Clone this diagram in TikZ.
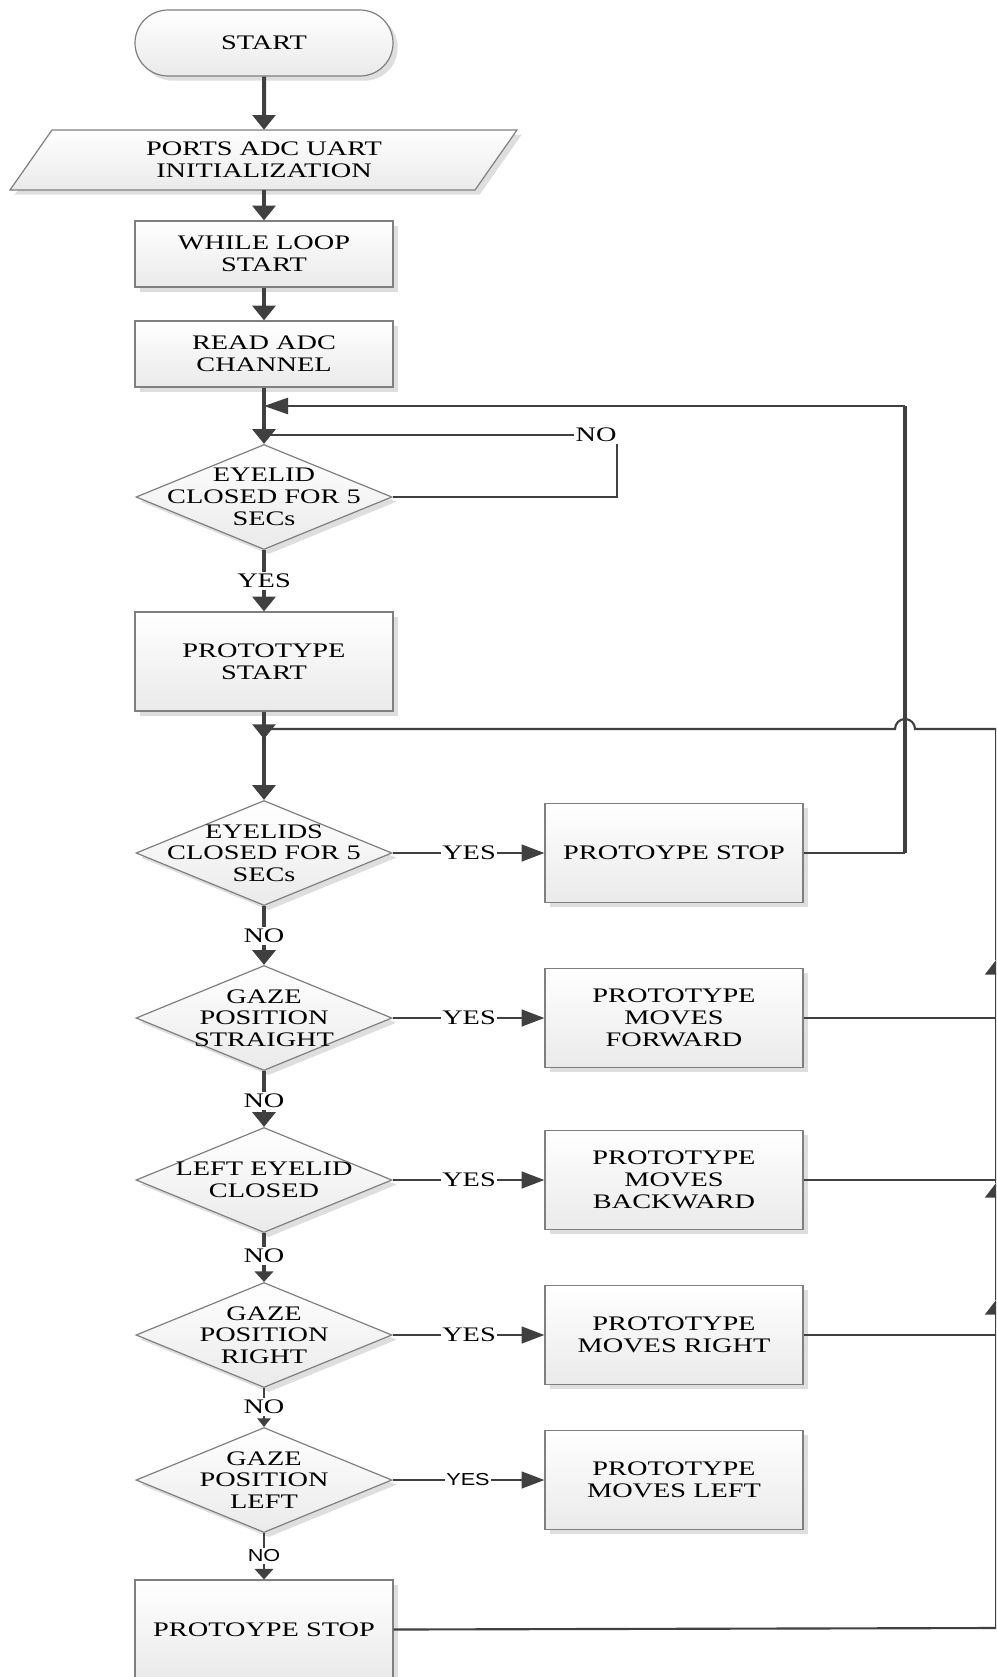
\documentclass[tikz,border=0pt]{standalone}
\usepackage{fontspec}
\setmainfont{Liberation Serif}[FakeStretch=1.37]
\newfontfamily\lblsans{Liberation Sans}[FakeStretch=1.25]
\usetikzlibrary{arrows.meta,shapes.geometric,shapes.misc,shadows}
\definecolor{lncol}{HTML}{404040}
\definecolor{bdcol}{HTML}{7F7F7F}
\definecolor{shdcol}{HTML}{DEDEDE}
\definecolor{botcol}{HTML}{EAEAEA}
\newcommand\flowfont{\fontsize{15.5}{16.3}\selectfont}
\newcommand\sanslblfont{\lblsans\fontsize{13}{14}\selectfont}
\begin{document}
\begin{tikzpicture}[x=0.75pt,y=-0.75pt,
  shp/.style={draw=bdcol, line width=0.9pt, top color=white, bottom color=botcol,
    drop shadow={shadow xshift=3.5pt, shadow yshift=-3.5pt, fill=shdcol, opacity=1}},
  box/.style={shp, rectangle, minimum width=193.5pt, minimum height=74.25pt,
    inner sep=0pt, align=center, font=\flowfont},
  term/.style={shp, rounded rectangle, minimum width=193.5pt, minimum height=49.5pt,
    inner sep=0pt, font=\flowfont},
  dia/.style={shp, diamond, minimum width=192pt, minimum height=78.75pt, inner sep=0pt},
  txt/.style={inner sep=0pt, align=center, font=\flowfont},
  lbl/.style={fill=white, inner sep=1.2pt, font=\flowfont},
  slbl/.style={fill=white, inner sep=1.2pt, font=\sanslblfont},
  lnk/.style={draw=lncol, line cap=butt, line join=miter},
  thk/.style={lnk, line width=3pt},
  med/.style={lnk, line width=1.9pt},
  thn/.style={lnk, line width=1.6pt},
  darr/.style={-{Triangle[length=11pt,width=17pt]}},
  darrs/.style={-{Triangle[length=6.5pt,width=10pt]}},
  darrm/.style={-{Triangle[length=8pt,width=14pt]}},
  larr/.style={-{Triangle[length=18pt,width=12pt]}},
  yarr/.style={-{Triangle[length=17pt,width=12.5pt]}},
  uarr/.style={-{Triangle[length=11pt,width=16.5pt]}}
]
\useasboundingbox (0,0) rectangle (996,1677);
\clip (0,0) rectangle (996,1677);

% ---------- shapes ----------
\node[term] (start) at (264,43) {START};
\path[shp] (52,130) -- (517,130) -- (475,190) -- (10,190) -- cycle;
\node[txt, minimum height=45pt, minimum width=150pt] (para) at (264,160) {PORTS ADC UART\\INITIALIZATION};
\node[box, minimum height=49.5pt] (while) at (264,254) {WHILE LOOP\\START};
\node[box, minimum height=49.5pt] (read) at (264,354) {READ ADC\\CHANNEL};

\node[dia] (d1) at (264,497) {};
\node[txt] (d1t) at (d1) {EYELID\\CLOSED FOR 5\\SECs};
\node[box] (pstart) at (264,661.5) {PROTOTYPE\\START};

\node[dia] (d2) at (264,853) {};
\node[txt] (d2t) at (d2) {EYELIDS\\CLOSED FOR 5\\SECs};
\node[box] (s1) at (674,853) {PROTOYPE STOP};

\node[dia] (d3) at (264,1018) {};
\node[txt] (d3t) at (d3) {GAZE\\POSITION\\STRAIGHT};
\node[box] (fwd) at (674,1018) {PROTOTYPE\\MOVES\\FORWARD};

\node[dia] (d4) at (264,1180) {};
\node[txt] (d4t) at (d4) {LEFT EYELID\\CLOSED};
\node[box] (bwd) at (674,1180) {PROTOTYPE\\MOVES\\BACKWARD};

\node[dia] (d5) at (264,1335) {};
\node[txt] (d5t) at (d5) {GAZE\\POSITION\\RIGHT};
\node[box] (rgt) at (674,1335) {PROTOTYPE\\MOVES RIGHT};

\node[dia] (d6) at (264,1480) {};
\node[txt] (d6t) at (d6) {GAZE\\POSITION\\LEFT};
\node[box] (lft) at (674,1480) {PROTOTYPE\\MOVES LEFT};

\node[box] (stop2) at (264,1629.5) {PROTOYPE STOP};

% ---------- coordinates ----------
\coordinate (j1) at (264,406);
\coordinate (j2) at (264,435);
\coordinate (nc1) at (617,497);
\coordinate (nc2) at (617,435);
\coordinate (j3) at (264,729);
\coordinate (j3t) at (264,739);
\coordinate (rv1) at (905,853);
\coordinate (rv2) at (905,406);
\coordinate (hopr) at (915,729);
\coordinate (re1) at (996,729);
\coordinate (a1) at (996,960);
\coordinate (a2) at (996,1183);
\coordinate (a3) at (996,1300);
\coordinate (rb) at (996,1628);

% ---------- connectors ----------
\draw[thk, darr] (start) -- (para);
\draw[thk, darr] (para) -- (while);
\draw[thk, darr] (while) -- (read);
\draw[thk, darr] (read) -- (d1);
\draw[thk, darr] (d1) -- (pstart);
\draw[thk, darr] (pstart) -- (j3t);
\draw[thk, darr] (j3) -- (d2);
\draw[thk, darr] (d2) -- (d3);
\draw[thk, darr] (d3) -- (d4);
\draw[thk, darrm] (d4) -- (d5);
\draw[med, darrs] (d5) -- (d6);
\draw[med, darrm] (d6) -- (stop2);

% NO loop of first decision
\draw[med] (d1.east) -- (nc1) -- (nc2) -- (j2);

% return from PROTOYPE STOP
\draw[med] (s1.east) -- (rv1);
\draw[thk] (rv1) -- (rv2);
\draw[med, larr] (rv2) -- (j1);

% line with hop to the junction
\draw[thn] (re1) -- (hopr) arc (0:-180:10) -- (j3);

% YES branches
\draw[thn, yarr] (d2) -- (s1);
\draw[thn, yarr] (d3) -- (fwd);
\draw[thn, yarr] (d4) -- (bwd);
\draw[thn, yarr] (d5) -- (rgt);
\draw[thn, yarr] (d6) -- (lft);

% returns on the right
\draw[thn] (fwd.east) -- (fwd.east -| re1);
\draw[thn] (bwd.east) -- (bwd.east -| re1);
\draw[thn] (rgt.east) -- (rgt.east -| re1);
\draw[thn] (stop2.east) -- (rb);
\draw[thn, uarr] (rb) -- (a3);
\draw[thn, uarr] (a3) -- (a2);
\draw[thn, uarr] (a2) -- (a1);
\draw[thn] (a1) -- (re1);

% ---------- labels ----------
\node[lbl] (n0) at (596,435) {NO};
\node[lbl] (y1) at (264,581) {YES};
\node[lbl] (y2) at (469,853) {YES};
\node[lbl] (n2) at (264,936) {NO};
\node[lbl] (y3) at (469,1018) {YES};
\node[lbl] (n3) at (264,1101) {NO};
\node[lbl] (y4) at (469,1180) {YES};
\node[lbl] (n4) at (264,1256) {NO};
\node[lbl] (y5) at (469,1335) {YES};
\node[lbl] (n5) at (264,1407) {NO};
\node[slbl] (y6) at (468,1480) {YES};
\node[slbl] (n6) at (264,1556) {NO};
\end{tikzpicture}
\end{document}
